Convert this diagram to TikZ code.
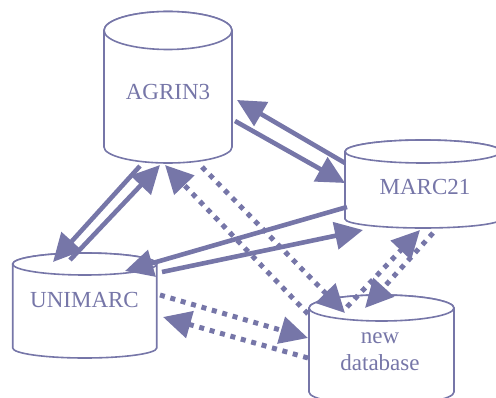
\documentclass[tikz,border=0pt]{standalone}
\usepackage{fontspec}
\setmainfont{Liberation Serif}
\usetikzlibrary{arrows.meta}
\definecolor{dbcol}{RGB}{118,118,168}
\newcommand\dbcyl[6]{%
  \filldraw[cylline] (#1-#2,#3) -- (#1-#2,#5)
    arc[start angle=180,end angle=360,x radius=#2pt,y radius=#6pt]
    -- (#1+#2,#3)
    arc[start angle=0,end angle=180,x radius=#2pt,y radius=#4pt] -- cycle;
  \draw[cylline] (#1,#3) ellipse[x radius=#2pt,y radius=#4pt];
}
\tikzset{
  cylline/.style={draw=dbcol,fill=white,line width=1.6pt},
  lbl/.style={text=dbcol,font=\fontsize{23}{27}\selectfont,align=center,inner sep=0pt},
  arr/.style={draw=dbcol,line width=4.6pt,-{Triangle[length=28pt,width=27pt]}},
  darr/.style={draw=dbcol,line width=5pt,dash pattern=on 5pt off 5.8pt,-{Triangle[length=28pt,width=27pt]}}
}
\begin{document}
\begin{tikzpicture}[x=1pt,y=-1pt]
\useasboundingbox (0,0) rectangle (496,398);
% cylinders
\dbcyl{168}{64}{30.5}{19}{147}{16}
\dbcyl{423}{78}{151.5}{11.5}{219}{9}
\dbcyl{84.7}{72}{264}{11}{348}{10}
\dbcyl{381.5}{72.5}{308}{13}{392}{13}
% labels
\node[lbl] (agrin) at (168,92.5) {AGRIN3};
\node[lbl] (marc) at (425,186.5) {MARC21};
\node[lbl] (unimarc) at (84.5,300) {UNIMARC};
\node[lbl] (newdb) at (380,352) {new\\database};
% connector end points
\coordinate (a2mS) at (235,121); \coordinate (a2mE) at (345,183);
\coordinate (m2aS) at (345,163); \coordinate (m2aE) at (237,100);
\coordinate (a2uS) at (140,166); \coordinate (a2uE) at (53,262);
\coordinate (u2aS) at (70,260);  \coordinate (u2aE) at (160,165);
\coordinate (m2uS) at (347,207); \coordinate (m2uE) at (125,271);
\coordinate (u2mS) at (162,272); \coordinate (u2mE) at (363,230);
\coordinate (u2nS) at (160,295); \coordinate (u2nE) at (308,338);
\coordinate (n2uS) at (308,358); \coordinate (n2uE) at (163,317);
\coordinate (a2nS) at (202,167); \coordinate (a2nE) at (345,313);
\coordinate (n2aS) at (308,314); \coordinate (n2aE) at (165,165);
\coordinate (m2nS) at (433,233); \coordinate (m2nE) at (365,308);
\coordinate (n2mS) at (347,307); \coordinate (n2mE) at (420,230);
% solid connectors
\draw[arr] (a2mS) -- (a2mE);
\draw[arr] (m2aS) -- (m2aE);
\draw[arr] (a2uS) -- (a2uE);
\draw[arr] (u2aS) -- (u2aE);
\draw[arr] (m2uS) -- (m2uE);
\draw[arr] (u2mS) -- (u2mE);
% dotted connectors
\draw[darr] (u2nS) -- (u2nE);
\draw[darr] (n2uS) -- (n2uE);
\draw[darr] (a2nS) -- (a2nE);
\draw[darr] (n2aS) -- (n2aE);
\draw[darr] (m2nS) -- (m2nE);
\draw[darr] (n2mS) -- (n2mE);
\end{tikzpicture}
\end{document}
